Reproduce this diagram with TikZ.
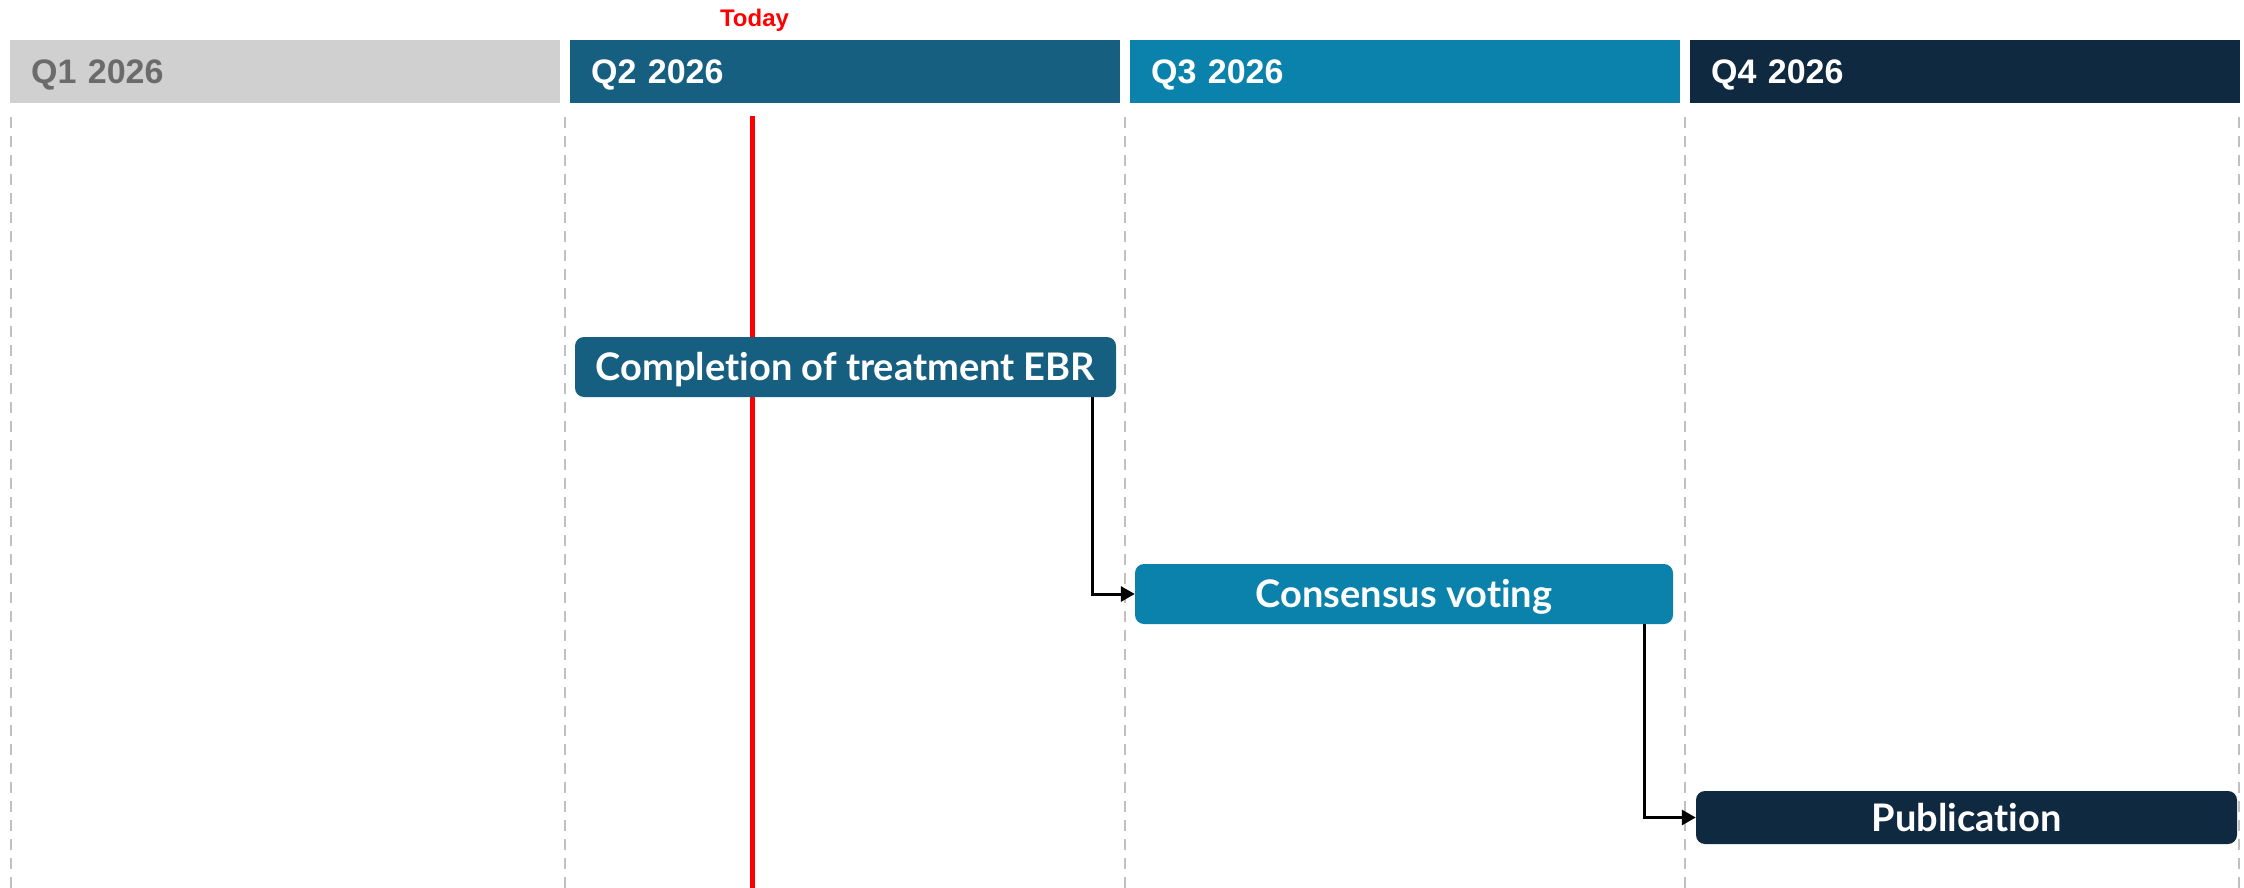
\documentclass[tikz,border=0pt]{standalone}
\usepackage{fontspec}
\setmainfont{Liberation Sans}
\newfontfamily\boxfont{Lato}[Ligatures=NoCommon]
\usetikzlibrary{arrows.meta}
\definecolor{qone}{HTML}{D0D0D0}
\definecolor{qonetext}{HTML}{6B6B6B}
\definecolor{qtwo}{HTML}{175F80}
\definecolor{qthree}{HTML}{0A82AB}
\definecolor{qfour}{HTML}{0F2941}
\definecolor{gridgray}{HTML}{C0C0C0}
\begin{document}
\begin{tikzpicture}[x=1pt,y=-1pt,
  header/.style={rectangle, anchor=north west, minimum width=550pt, minimum height=63pt,
    inner xsep=21pt, inner ysep=0pt, text width=508pt, align=left,
    text height=24pt, text depth=0pt, text=white,
    font=\fontsize{34}{34}\selectfont\bfseries},
  task/.style={rectangle, rounded corners=9pt, inner sep=0pt, text=white,
    text height=27pt, text depth=0pt,
    font=\boxfont\fontsize{38}{38}\selectfont\bfseries},
  grid/.style={gridgray, line width=2pt, dash pattern=on 11pt off 8pt},
  conn/.style={black, line width=3pt, -{Triangle[length=14pt,width=15pt]}}
]
\useasboundingbox (0,0) rectangle (2244,888);
% headers
\node[header, fill=qone, text=qonetext] (q1) at (10,40) {Q1 2026};
\node[header, fill=qtwo] (q2) at (570,40) {Q2 2026};
\node[header, fill=qthree] (q3) at (1130,40) {Q3 2026};
\node[header, fill=qfour] (q4) at (1690,40) {Q4 2026};
% grid lines
\foreach \gx in {11,565,1125,1685,2239}
  \draw[grid] (\gx,117) -- (\gx,888);
% today marker
\node[anchor=base, text=red, inner sep=0pt, font=\fontsize{24}{24}\selectfont\bfseries] (today) at (754.5,27) {Today};
\coordinate (todaytop) at (752.5,116);
\coordinate (todaybot) at (752.5,888);
\draw[red, line width=5pt] (todaytop) -- (todaybot);
% tasks
\node[task, fill=qtwo, minimum width=541pt, minimum height=60pt] (t1) at (845.5,367) {Completion of treatment EBR};
\node[task, fill=qthree, minimum width=538pt, minimum height=60pt] (t2) at (1404,594) {Consensus voting};
\node[task, fill=qfour, minimum width=541pt, minimum height=53pt] (t3) at (1966.5,817.5) {Publication};
% connectors
\draw[conn] ([xshift=-24pt]t1.south east) |- (t2.west);
\draw[conn] ([xshift=-29pt]t2.south east) |- (t3.west);
\end{tikzpicture}
\end{document}
